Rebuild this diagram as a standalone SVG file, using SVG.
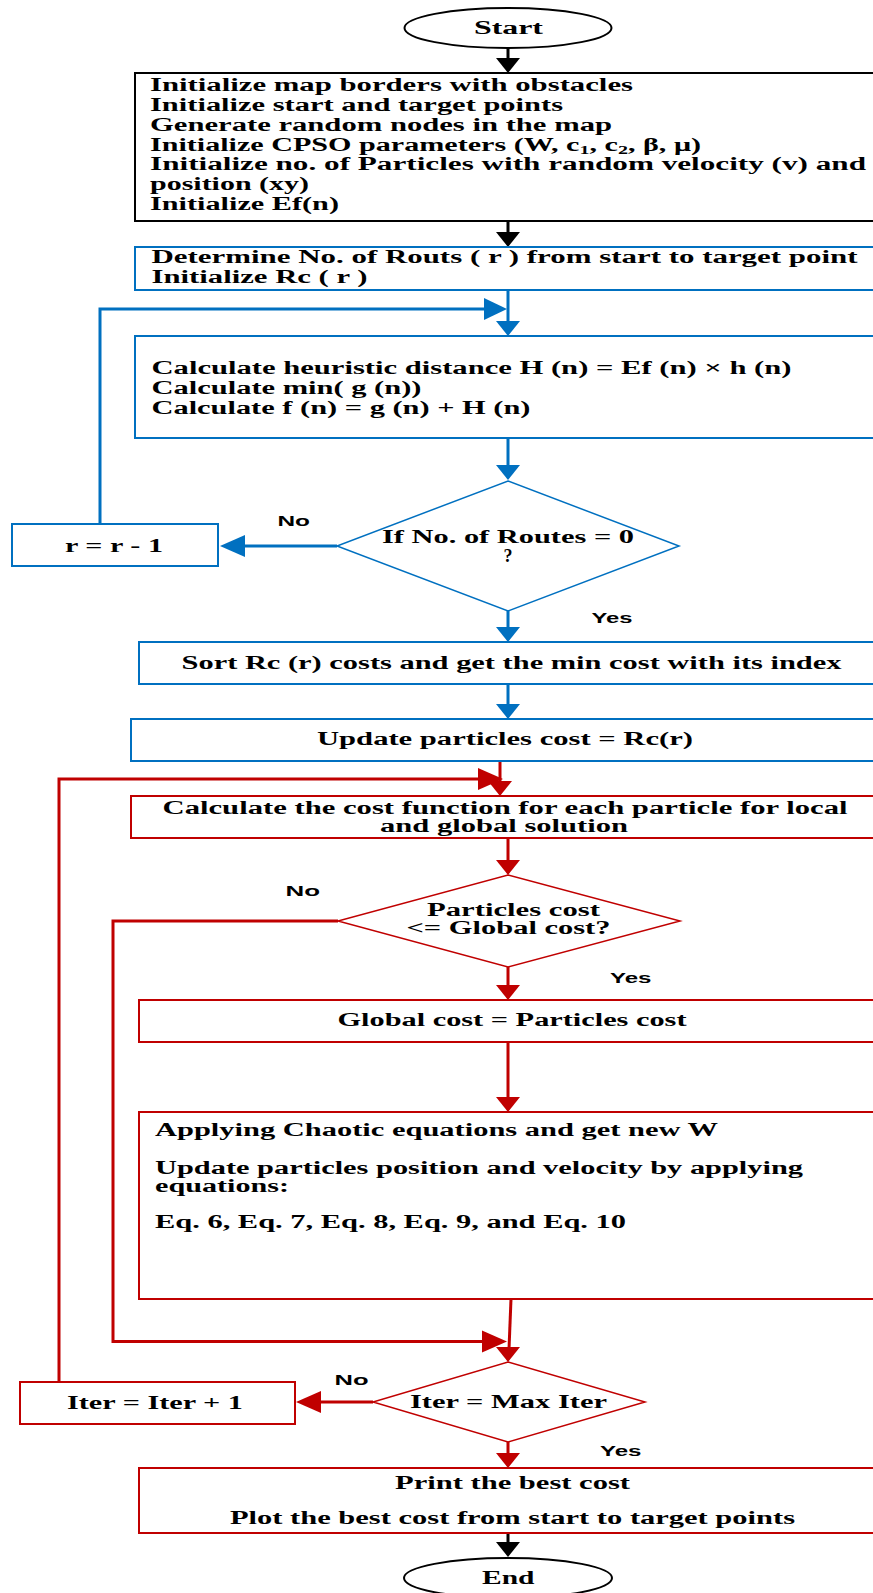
<svg xmlns="http://www.w3.org/2000/svg" width="873" height="1593" viewBox="0 0 873 1593">
<style>
.t{font-family:"Liberation Serif","Times New Roman",serif;font-weight:bold;font-size:18px;fill:#000}
.l{font-family:"Liberation Sans",Arial,sans-serif;font-weight:bold;font-size:15px;fill:#000}
.bk{fill:#fff;stroke:#000;stroke-width:2}
.bb{fill:#fff;stroke:#0070C0;stroke-width:2}
.br{fill:#fff;stroke:#C00000;stroke-width:2}
.cb{fill:none;stroke:#0070C0;stroke-width:3}
.cr{fill:none;stroke:#C00000;stroke-width:3}
.ck{fill:none;stroke:#000;stroke-width:3}
.hb{fill:#0070C0}
.hr{fill:#C00000}
.hk{fill:#000}
</style>
<rect x="0" y="0" width="873" height="1593" fill="#fff"/>

<g id="connectors">
  <!-- black -->
  <line class="ck" x1="508" y1="48" x2="508" y2="60"/>
  <polygon class="hk" points="496,58 520,58 508,73"/>
  <line class="ck" x1="508" y1="221" x2="508" y2="234"/>
  <polygon class="hk" points="496,232 520,232 508,247"/>
  <line class="ck" x1="508" y1="1533" x2="508" y2="1544"/>
  <polygon class="hk" points="496,1542 520,1542 508,1557"/>
  <!-- blue -->
  <line class="cb" x1="508" y1="290" x2="508" y2="323"/>
  <polygon class="hb" points="496,321 520,321 508,336"/>
  <polyline class="cb" points="100,524 100,309 486,309"/>
  <polygon class="hb" points="484,298 484,320 507,309"/>
  <line class="cb" x1="508" y1="438" x2="508" y2="467"/>
  <polygon class="hb" points="496,465 520,465 508,480"/>
  <line class="cb" x1="337" y1="546" x2="242" y2="546"/>
  <polygon class="hb" points="245,535 245,557 220,546"/>
  <line class="cb" x1="508" y1="611" x2="508" y2="629"/>
  <polygon class="hb" points="496,627 520,627 508,642"/>
  <line class="cb" x1="508" y1="684" x2="508" y2="706"/>
  <polygon class="hb" points="496,704 520,704 508,719"/>
  <!-- red -->
  <line class="cr" x1="500" y1="761" x2="500" y2="783"/>
  <polygon class="hr" points="488,781 512,781 500,796"/>
  <polyline class="cr" points="59,1382 59,779 480,779"/>
  <polygon class="hr" points="478,768 478,790 503,779"/>
  <line class="cr" x1="508" y1="838" x2="508" y2="862"/>
  <polygon class="hr" points="496,860 520,860 508,875"/>
  <polyline class="cr" points="338,921 113,921 113,1341.5 484,1341.5"/>
  <polygon class="hr" points="482,1330.5 482,1352.5 507,1341.5"/>
  <line class="cr" x1="508" y1="967" x2="508" y2="987"/>
  <polygon class="hr" points="496,985 520,985 508,1000"/>
  <line class="cr" x1="508" y1="1042" x2="508" y2="1099"/>
  <polygon class="hr" points="496,1097 520,1097 508,1112"/>
  <polyline class="cr" points="511,1299 509,1349"/>
  <polygon class="hr" points="496,1347 520,1347 508,1362"/>
  <line class="cr" x1="373" y1="1402" x2="318" y2="1402"/>
  <polygon class="hr" points="321,1391 321,1413 296,1402"/>
  <line class="cr" x1="508" y1="1442" x2="508" y2="1455"/>
  <polygon class="hr" points="496,1453 520,1453 508,1468"/>
</g>

<g id="start">
  <ellipse class="bk" cx="508" cy="28" rx="103.5" ry="20"/>
  <text class="t" x="474" y="34" textLength="69" lengthAdjust="spacingAndGlyphs">Start</text>
</g>

<g id="init">
  <rect class="bk" x="135" y="73" width="750" height="148"/>
  <text class="t" x="150" y="91" textLength="483" lengthAdjust="spacingAndGlyphs">Initialize map borders with obstacles</text>
  <text class="t" x="150" y="110.5" textLength="413" lengthAdjust="spacingAndGlyphs">Initialize start and target points</text>
  <text class="t" x="150" y="130.5" textLength="462" lengthAdjust="spacingAndGlyphs">Generate random nodes in the map</text>
  <text class="t" x="150" y="150.5" textLength="551" lengthAdjust="spacingAndGlyphs">Initialize CPSO parameters (W, c<tspan font-size="12" dy="3">1</tspan><tspan dy="-3">, c</tspan><tspan font-size="12" dy="3">2</tspan><tspan dy="-3">, β, μ)</tspan></text>
  <text class="t" x="150" y="170" textLength="716" lengthAdjust="spacingAndGlyphs">Initialize no. of Particles with random velocity (v) and</text>
  <text class="t" x="150" y="190" textLength="159" lengthAdjust="spacingAndGlyphs">position (xy)</text>
  <text class="t" x="150" y="210" textLength="189" lengthAdjust="spacingAndGlyphs">Initialize Ef(n)</text>
</g>

<g id="routes">
  <rect class="bb" x="135" y="247" width="750" height="43"/>
  <text class="t" x="151.5" y="263" textLength="706" lengthAdjust="spacingAndGlyphs">Determine No. of Routs ( r )  from start to target point</text>
  <text class="t" x="151.5" y="282.5" textLength="216" lengthAdjust="spacingAndGlyphs">Initialize Rc ( r )</text>
</g>

<g id="heuristic">
  <rect class="bb" x="135" y="336" width="750" height="102"/>
  <text class="t" x="151.5" y="373.5" textLength="640" lengthAdjust="spacingAndGlyphs">Calculate heuristic distance H (n) = Ef (n) × h (n)</text>
  <text class="t" x="151.5" y="394" textLength="270" lengthAdjust="spacingAndGlyphs">Calculate min( g (n))</text>
  <text class="t" x="151.5" y="414" textLength="379" lengthAdjust="spacingAndGlyphs">Calculate f (n) = g (n) + H (n)</text>
</g>

<g id="routes-zero">
  <polygon fill="#fff" stroke="#0070C0" stroke-width="1.5" points="508,481 679,546 508,611 337,546"/>
  <text class="t" x="382" y="542.5" textLength="252" lengthAdjust="spacingAndGlyphs">If No. of Routes = 0</text>
  <text class="t" x="508" y="562" text-anchor="middle">?</text>
</g>

<g id="r-dec">
  <rect class="bb" x="12" y="524" width="206" height="42"/>
  <text class="t" x="65" y="551.5" textLength="98" lengthAdjust="spacingAndGlyphs">r = r - 1</text>
</g>

<g id="lbl-no1"><text class="l" x="277.5" y="525.5" textLength="32.5" lengthAdjust="spacingAndGlyphs">No</text></g>
<g id="lbl-yes1"><text class="l" x="591.5" y="622.5" textLength="41" lengthAdjust="spacingAndGlyphs">Yes</text></g>

<g id="sort">
  <rect class="bb" x="139" y="642" width="750" height="42"/>
  <text class="t" x="181.5" y="668.5" textLength="660" lengthAdjust="spacingAndGlyphs">Sort Rc (r) costs and get  the min cost with its index</text>
</g>

<g id="update">
  <rect class="bb" x="131" y="719" width="750" height="42"/>
  <text class="t" x="317" y="745" textLength="376" lengthAdjust="spacingAndGlyphs">Update particles cost = Rc(r)</text>
</g>

<g id="calc-cost">
  <rect class="br" x="131" y="796" width="750" height="42"/>
  <text class="t" x="162.5" y="814" textLength="685" lengthAdjust="spacingAndGlyphs">Calculate the cost function for each particle for local</text>
  <text class="t" x="380" y="832" textLength="248" lengthAdjust="spacingAndGlyphs">and global solution</text>
</g>

<g id="cost-check">
  <polygon fill="#fff" stroke="#C00000" stroke-width="1.5" points="508,875 680,921 508,967 338,921"/>
  <text class="t" x="427" y="916" textLength="173" lengthAdjust="spacingAndGlyphs">Particles cost</text>
  <text class="t" x="406.5" y="934" textLength="204" lengthAdjust="spacingAndGlyphs">&lt;= Global cost?</text>
</g>

<g id="lbl-no2"><text class="l" x="285.5" y="895.5" textLength="34.5" lengthAdjust="spacingAndGlyphs">No</text></g>
<g id="lbl-yes2"><text class="l" x="610" y="983" textLength="41.5" lengthAdjust="spacingAndGlyphs">Yes</text></g>

<g id="global">
  <rect class="br" x="139" y="1000" width="750" height="42"/>
  <text class="t" x="337.5" y="1026" textLength="349" lengthAdjust="spacingAndGlyphs">Global cost = Particles cost</text>
</g>

<g id="chaotic">
  <rect class="br" x="139" y="1112" width="750" height="187"/>
  <text class="t" x="155" y="1136" textLength="563" lengthAdjust="spacingAndGlyphs">Applying Chaotic equations and get  new W</text>
  <text class="t" x="155" y="1174" textLength="648" lengthAdjust="spacingAndGlyphs">Update particles position and velocity by applying</text>
  <text class="t" x="155" y="1192" textLength="134" lengthAdjust="spacingAndGlyphs">equations:</text>
  <text class="t" x="155" y="1228" textLength="471" lengthAdjust="spacingAndGlyphs">Eq. 6, Eq. 7, Eq. 8, Eq. 9, and Eq. 10</text>
</g>

<g id="iter-check">
  <polygon fill="#fff" stroke="#C00000" stroke-width="1.5" points="508,1362 645,1402 508,1442 373,1402"/>
  <text class="t" x="410" y="1408" textLength="197" lengthAdjust="spacingAndGlyphs">Iter = Max Iter</text>
</g>

<g id="iter-inc">
  <rect class="br" x="20" y="1382" width="275" height="42"/>
  <text class="t" x="67" y="1408.5" textLength="176" lengthAdjust="spacingAndGlyphs">Iter = Iter + 1</text>
</g>

<g id="lbl-no3"><text class="l" x="334.5" y="1384.5" textLength="34" lengthAdjust="spacingAndGlyphs">No</text></g>
<g id="lbl-yes3"><text class="l" x="600" y="1455.5" textLength="41.5" lengthAdjust="spacingAndGlyphs">Yes</text></g>

<g id="print">
  <rect class="br" x="139" y="1468" width="750" height="65"/>
  <text class="t" x="395" y="1489" textLength="235" lengthAdjust="spacingAndGlyphs">Print the best cost</text>
  <text class="t" x="230" y="1524" textLength="565" lengthAdjust="spacingAndGlyphs">Plot the best cost from start to target points</text>
</g>

<g id="end">
  <ellipse class="bk" cx="508" cy="1578" rx="104" ry="20"/>
  <text class="t" x="482" y="1584" textLength="52.5" lengthAdjust="spacingAndGlyphs">End</text>
</g>
</svg>
